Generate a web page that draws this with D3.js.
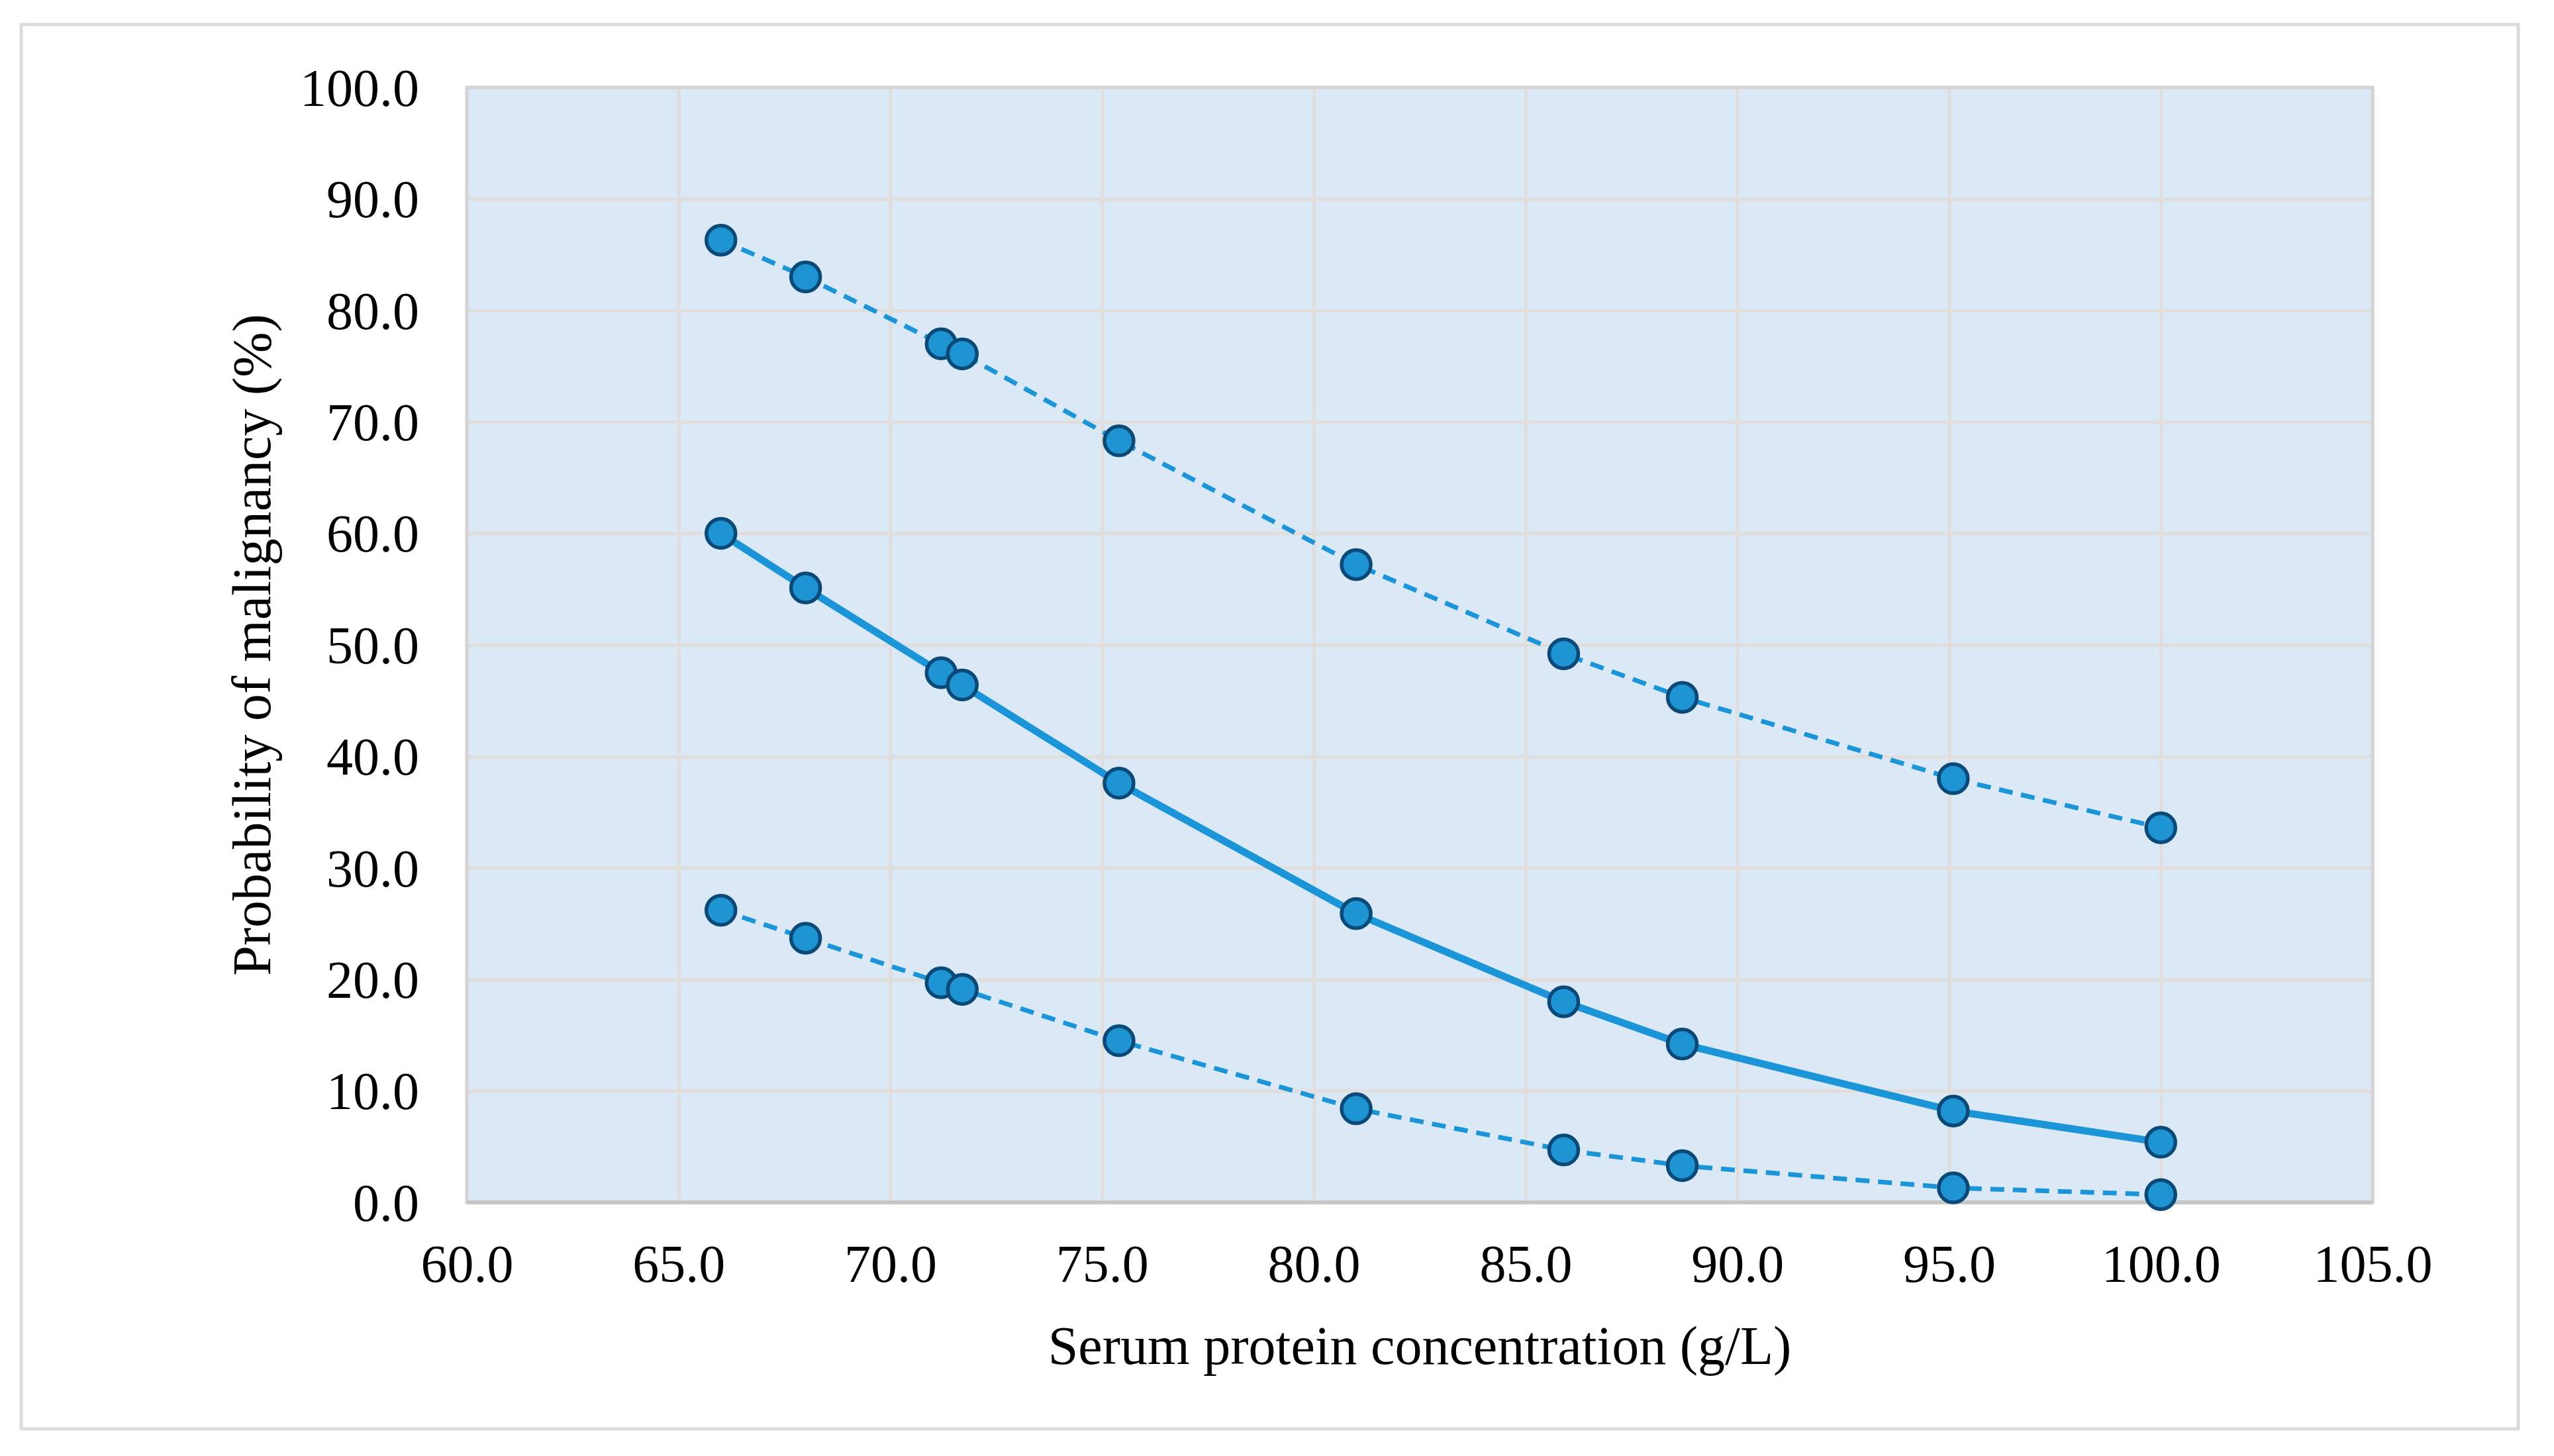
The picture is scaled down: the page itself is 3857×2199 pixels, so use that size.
<!DOCTYPE html>
<html>
<head>
<meta charset="utf-8">
<script src="https://cdn.jsdelivr.net/npm/d3@7.9.0/dist/d3.min.js"></script>
<style>
  body { margin: 0; background: #fff; }
  svg text { font-family: "Liberation Serif", "DejaVu Serif", serif; fill: #000; }
</style>
</head>
<body>
<svg id="chart" width="3857" height="2199"></svg>
<script>
// serum protein values (g/L) on the x axis
const protein = [66.0, 68.0, 71.2, 71.7, 75.4, 81.0, 85.9, 88.7, 95.1, 100.0];

// probability of malignancy (%) - estimate and the two bounds
const upperBound = [86.3, 83.0, 77.0, 76.1, 68.3, 57.2, 49.2, 45.3, 38.0, 33.6];
const estimate   = [60.0, 55.1, 47.5, 46.4, 37.6, 25.9, 18.0, 14.2, 8.2, 5.4];
const lowerBound = [26.2, 23.7, 19.7, 19.1, 14.5, 8.4, 4.7, 3.3, 1.3, 0.7];

const xTicks = [60, 65, 70, 75, 80, 85, 90, 95, 100, 105];
const yTicks = [0, 10, 20, 30, 40, 50, 60, 70, 80, 90, 100];

const svg = d3.select("#chart");

// outer frame
svg.append("rect")
  .attr("x", 32).attr("y", 37)
  .attr("width", 3771).attr("height", 2121)
  .attr("fill", "#fff")
  .attr("stroke", "#dcdcdc")
  .attr("stroke-width", 5);

const plotL = 705, plotR = 3583, plotT = 132, plotB = 1816;

let x = d3.scaleLinear().domain([60, 105]).range([plotL, plotR]);
let y = d3.scaleLinear().domain([0, 100]).range([plotB, plotT]);

// plot background
svg.append("rect")
  .attr("x", plotL).attr("y", plotT)
  .attr("width", plotR - plotL).attr("height", plotB - plotT)
  .attr("fill", "#dae9f5");

// grid lines
svg.append("g")
  .attr("transform", `translate(0,${plotB})`)
  .call(d3.axisBottom(x).tickValues(xTicks).tickSize(-(plotB - plotT)).tickFormat(""))
  .call(g => g.select(".domain").remove())
  .selectAll("line").attr("stroke", "#e0dedc").attr("stroke-width", 5);

svg.append("g")
  .attr("transform", `translate(${plotL},0)`)
  .call(d3.axisLeft(y).tickValues(yTicks).tickSize(-(plotR - plotL)).tickFormat(""))
  .call(g => g.select(".domain").remove())
  .selectAll("line").attr("stroke", "#e0dedc").attr("stroke-width", 5);

// plot border
svg.append("rect")
  .attr("x", plotL).attr("y", plotT)
  .attr("width", plotR - plotL).attr("height", plotB - plotT)
  .attr("fill", "none")
  .attr("stroke", "#d4d4d4")
  .attr("stroke-width", 5);

svg.append("line")
  .attr("x1", plotL).attr("x2", plotR)
  .attr("y1", plotB).attr("y2", plotB)
  .attr("stroke", "#c6c6c6").attr("stroke-width", 6);

// tick labels
let fmt = d3.format(".1f");

let xAxis = svg.append("g")
  .attr("transform", `translate(0,${plotB})`)
  .call(d3.axisBottom(x).tickValues(xTicks).tickSize(0).tickPadding(120).tickFormat(fmt));
xAxis.select(".domain").remove();
xAxis.selectAll("text")
  .attr("font-size", 80)
  .attr("font-family", "Liberation Serif")
  .attr("dy", 0);

let yAxis = svg.append("g")
  .attr("transform", `translate(${plotL},0)`)
  .call(d3.axisLeft(y).tickValues(yTicks).tickSize(0).tickPadding(72).tickFormat(fmt));
yAxis.select(".domain").remove();
yAxis.selectAll("text")
  .attr("font-size", 80)
  .attr("font-family", "Liberation Serif")
  .attr("dy", "0.34em");

// axis titles
svg.append("text")
  .attr("x", (plotL + plotR) / 2)
  .attr("y", 2060)
  .attr("text-anchor", "middle")
  .attr("font-size", 82)
  .text("Serum protein concentration (g/L)");

svg.append("text")
  .attr("transform", `translate(408,${(plotT + plotB) / 2}) rotate(-90)`)
  .attr("text-anchor", "middle")
  .attr("font-size", 82)
  .text("Probability of malignancy (%)");

// series
const lineColor = "#1b95d8";
let series = [
  { values: upperBound, dash: "21,13", width: 7 },
  { values: lowerBound, dash: "21,13", width: 7 },
  { values: estimate, dash: null, width: 11 }
];

let line = d3.line()
  .x(d => x(d[0]))
  .y(d => y(d[1]));

series.forEach(s => {
  let pts = protein.map((p, i) => [p, s.values[i]]);
  svg.append("path")
    .datum(pts)
    .attr("d", line)
    .attr("fill", "none")
    .attr("stroke", lineColor)
    .attr("stroke-width", s.width)
    .attr("stroke-dasharray", s.dash);
});

series.forEach(s => {
  let pts = protein.map((p, i) => [p, s.values[i]]);
  svg.append("g")
    .selectAll("circle")
    .data(pts)
    .join("circle")
    .attr("cx", d => x(d[0]))
    .attr("cy", d => y(d[1]))
    .attr("r", 22)
    .attr("fill", "#1f94d2")
    .attr("stroke", "#0b4a78")
    .attr("stroke-width", 5.5);
});
</script>
</body>
</html>
